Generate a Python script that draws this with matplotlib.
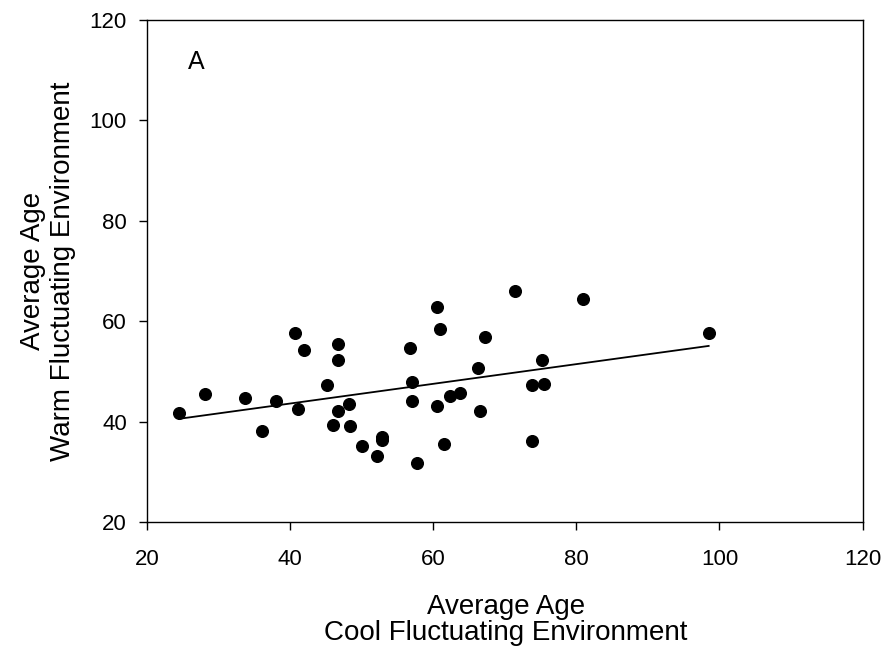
import numpy as np
import matplotlib
matplotlib.use('Agg')
import matplotlib.pyplot as plt

plt.rcParams['font.family'] = ['Liberation Sans', 'DejaVu Sans']

# average age, cool fluctuating environment
cool_age = [24.5, 28.1, 33.7, 36.1, 38.1, 40.7, 41.9, 41.1, 46.7, 46.7,
            45.2, 46.7, 48.2, 46.0, 48.4, 50.0, 52.9, 52.9, 52.1,
            71.5, 80.9, 60.5, 60.9, 67.3, 56.8, 75.2, 66.3, 57.0, 73.8,
            75.5, 57.0, 62.3, 63.8, 60.6, 66.5, 73.8, 61.5, 57.8, 98.5]
# average age, warm fluctuating environment
warm_age = [41.8, 45.6, 44.8, 38.1, 44.2, 57.6, 54.2, 42.6, 55.5, 52.2,
            47.3, 42.2, 43.6, 39.3, 39.1, 35.1, 37.0, 36.3, 33.1,
            66.1, 64.4, 62.9, 58.5, 56.9, 54.6, 52.3, 50.7, 47.8, 47.2,
            47.5, 44.1, 45.2, 45.7, 43.1, 42.1, 36.1, 35.6, 31.7, 57.6]

x = np.array(cool_age)
y = np.array(warm_age)
slope, intercept = np.polyfit(x, y, 1)
xs = np.array([x.min(), x.max()])

fig = plt.figure(figsize=(8.88, 6.54), dpi=100)
ax = fig.add_axes([0.1655, 0.2018, 0.8058, 0.7676])

ax.plot(x, y, 'o', color='black', markersize=8.4)
ax.plot(xs, slope * xs + intercept, color='black', linewidth=1.3)

ax.set_xlim(20, 120)
ax.set_ylim(20, 120)
ax.set_xticks([20, 40, 60, 80, 100, 120])
ax.set_yticks([20, 40, 60, 80, 100, 120])
for s in ax.spines.values():
    s.set_linewidth(1.0)
ax.tick_params(direction='out', length=5.5, width=1.0, labelsize=16)
ax.tick_params(axis='x', pad=14)
ax.tick_params(axis='y', pad=9)

# axis titles placed by hand, like the original
fig.text(0.5698, 1 - 640 / 654, 'Average Age\nCool Fluctuating Environment',
         fontsize=20, ha='center', va='baseline', linespacing=1.0)
fig.text(66 / 888, 1 - 271 / 654, 'Average Age\nWarm Fluctuating Environment',
         fontsize=20, ha='center', va='baseline', rotation=90,
         rotation_mode='anchor', linespacing=1.22)
ax.text(26.85, 111.6, 'A', fontsize=18, ha='center', va='center')

fig.savefig('out.png', dpi=100)
